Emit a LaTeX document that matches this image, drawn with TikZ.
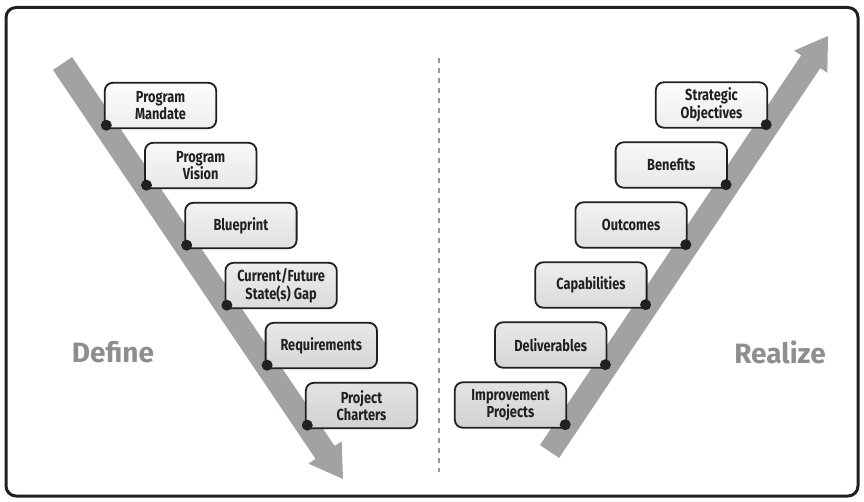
\documentclass[tikz,border=0pt]{standalone}
\usepackage{fontspec}
\newfontfamily\boxfont[FakeStretch=0.8]{Fira Sans}
\newfontfamily\labelfont{Fira Sans}
\usetikzlibrary{calc}
\definecolor{ink}{HTML}{231F20}
\definecolor{bandgray}{HTML}{A1A2A4}
\definecolor{labelgray}{HTML}{8D8E90}
\pgfdeclarelayer{bandlayer}
\pgfdeclarelayer{boxlayer}
\pgfsetlayers{bandlayer,boxlayer,main}
\tikzset{
  stepbox/.style={minimum width=111pt, minimum height=45pt, inner sep=0pt,
    align=center, text=ink, font=\boxfont\bfseries\fontsize{16}{17.5}\selectfont},
  boxedge/.style n args={2}{draw=ink, line width=1.8pt, top color=black!#1, bottom color=black!#2},
  stepdot/.style={fill=ink},
  sidelabel/.style={text=labelgray, font=\labelfont\bfseries\fontsize{28}{30}\selectfont},
  dashline/.style={draw=black!40, line width=1.6pt, dash pattern=on 5pt off 5pt},
  bandfill/.style={fill=bandgray}
}
% box outline with the lower left corner kept square (dot sits there)
\newcommand\outlineL[3]{%
  \begin{pgfonlayer}{boxlayer}
    \path[boxedge={#2}{#3}] (#1.south) [rounded corners=8pt] -- (#1.south east) -- (#1.north east)
      -- (#1.north west) -- (#1.west) [sharp corners] -- (#1.south west) -- cycle;
  \end{pgfonlayer}
  \fill[stepdot] ($(#1.south west)+(1.5,-3)$) circle (5.5);
}
% box outline with the lower right corner kept square
\newcommand\outlineR[3]{%
  \begin{pgfonlayer}{boxlayer}
    \path[boxedge={#2}{#3}] (#1.east) [rounded corners=8pt] -- (#1.north east) -- (#1.north west)
      -- (#1.south west) -- (#1.south) [sharp corners] -- (#1.south east) -- cycle;
  \end{pgfonlayer}
  \fill[stepdot] ($(#1.south east)+(-1,-3)$) circle (5.5);
}
\begin{document}
\begin{tikzpicture}[x=1pt,y=-1pt]
\useasboundingbox (0,0) rectangle (864,502);
\draw[ink, line width=3pt, rounded corners=10pt] (6,7.5) rectangle (858,496);

% the two broad arrows
\coordinate (ls) at (62.5,63.5);
\coordinate (le) at (343,479);
\coordinate (lh) at ($(le)!32pt!(ls)$);
\coordinate (rs) at (549.5,451.5);
\coordinate (re) at (828,36);
\coordinate (rh) at ($(re)!31pt!(rs)$);
\begin{pgfonlayer}{bandlayer}
  \fill[bandfill] ($(ls)!11.5pt!90:(le)$) -- ($(lh)!11.5pt!90:(le)$) -- ($(lh)!20pt!90:(le)$)
    -- (le) -- ($(lh)!20pt!-90:(le)$) -- ($(lh)!11.5pt!-90:(le)$) -- ($(ls)!11.5pt!-90:(le)$) -- cycle;
  \fill[bandfill] ($(rs)!11.5pt!90:(re)$) -- ($(rh)!11.5pt!90:(re)$) -- ($(rh)!20pt!90:(re)$)
    -- (re) -- ($(rh)!20pt!-90:(re)$) -- ($(rh)!11.5pt!-90:(re)$) -- ($(rs)!11.5pt!-90:(re)$) -- cycle;
\end{pgfonlayer}

% divider
\coordinate (divtop) at (439,58);
\coordinate (divbot) at (439,472);
\draw[dashline] (divtop) -- (divbot);

% define side
\node[stepbox] (mandate) at (160.5,105.5) {Program\\Mandate};
\node[stepbox] (vision) at (200.7,165.5) {Program\\Vision};
\node[stepbox] (blueprint) at (240.9,225.5) {Blueprint};
\node[stepbox] (gap) at (281.1,285.5) {Current/Future\\State(s) Gap};
\node[stepbox] (reqs) at (321.3,345.5) {Requirements};
\node[stepbox] (charters) at (361.5,405.5) {Project\\Charters};
\outlineL{mandate}{1}{7}
\outlineL{vision}{3}{9}
\outlineL{blueprint}{5}{12}
\outlineL{gap}{7}{14}
\outlineL{reqs}{9}{16}
\outlineL{charters}{11}{18}

% realize side
\node[stepbox] (objectives) at (711.5,105) {Strategic\\Objectives};
\node[stepbox] (benefits) at (671.3,165) {Benefits};
\node[stepbox] (outcomes) at (631.1,225) {Outcomes};
\node[stepbox] (capabilities) at (590.9,285) {Capabilities};
\node[stepbox] (deliverables) at (550.7,345) {Deliverables};
\node[stepbox] (improvement) at (510.5,405) {Improvement\\Projects};
\outlineR{objectives}{1}{7}
\outlineR{benefits}{3}{9}
\outlineR{outcomes}{5}{12}
\outlineR{capabilities}{7}{14}
\outlineR{deliverables}{9}{16}
\outlineR{improvement}{11}{18}

\node[sidelabel] (define) at (113,352) {Define};
\node[sidelabel] (realize) at (780,352) {Realize};
\end{tikzpicture}
\end{document}
